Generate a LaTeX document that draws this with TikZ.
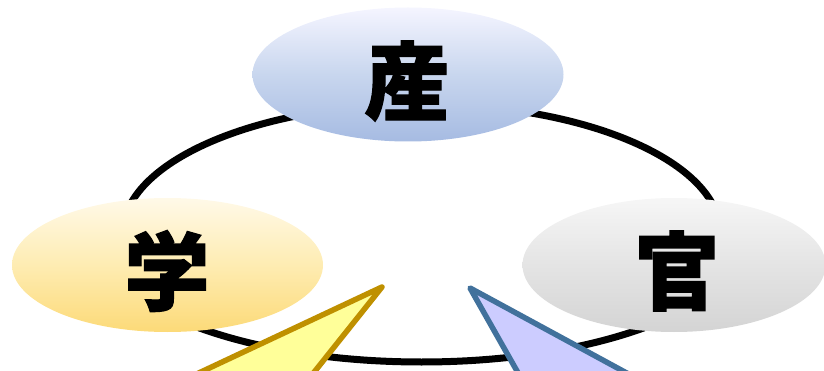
\documentclass[tikz,border=0pt]{standalone}
\usepackage{fontspec}
\newfontfamily\cjk[BoldFeatures={FakeBold=1.5}]{Noto Sans CJK JP}
\usetikzlibrary{shapes.geometric}
\tikzset{
  ring/.style={line width=7pt, black},
  bubble/.style={ellipse, inner sep=0pt, minimum width=311pt, minimum height=134pt},
  kanji/.style={inner sep=0pt, font=\cjk\bfseries\fontsize{85}{85}\selectfont},
  callout/.style={line width=5.5pt, line join=round},
}
\begin{document}
\begin{tikzpicture}[x=1pt,y=-1pt]
\useasboundingbox (0,0) rectangle (824,371);
\clip (0,0) rectangle (824,371);
% ring (upper and lower halves; the joins lie under the side bubbles)
\coordinate (ringTL) at (122.5,234);
\coordinate (ringBL) at (94.5,234);
\draw[ring] (ringTL) arc[start angle=180, end angle=360, x radius=299, y radius=130];
\draw[ring] (ringBL) arc[start angle=180, end angle=0, x radius=327, y radius=128];
% bubbles
\node[bubble, top color=blue!4!white, bottom color={rgb,255:red,166;green,187;blue,226}, middle color={rgb,255:red,200;green,214;blue,238}] (san) at (408,74.5) {};
\node[bubble, top color={rgb,255:red,255;green,249;blue,232}, bottom color={rgb,255:red,252;green,218;blue,120}, middle color={rgb,255:red,254;green,236;blue,178}] (gaku) at (167.5,265) {};
\node[bubble, minimum width=303pt, top color={rgb,255:red,246;green,246;blue,246}, bottom color={rgb,255:red,212;green,212;blue,212}, middle color={rgb,255:red,228;green,228;blue,228}] (kan) at (674,265) {};
% labels
\node[kanji] (tsan) at (407,81) {産};
\node[kanji] (tgaku) at (167,271) {学};
\node[kanji] (tkan) at (677,271) {官};
% callouts
\coordinate (ytip) at (382,287);
\coordinate (yl) at (98.6,420);
\coordinate (yr) at (276,420);
\coordinate (btip) at (470,288);
\coordinate (bl) at (544.7,420);
\coordinate (br) at (713.3,420);
\draw[callout, draw={rgb,255:red,191;green,144;blue,0}, fill={rgb,255:red,255;green,255;blue,153}] (ytip) -- (yl) -- (yr) -- cycle;
\draw[callout, draw={rgb,255:red,65;green,113;blue,156}, fill={rgb,255:red,204;green,204;blue,255}] (btip) -- (bl) -- (br) -- cycle;
\end{tikzpicture}
\end{document}
